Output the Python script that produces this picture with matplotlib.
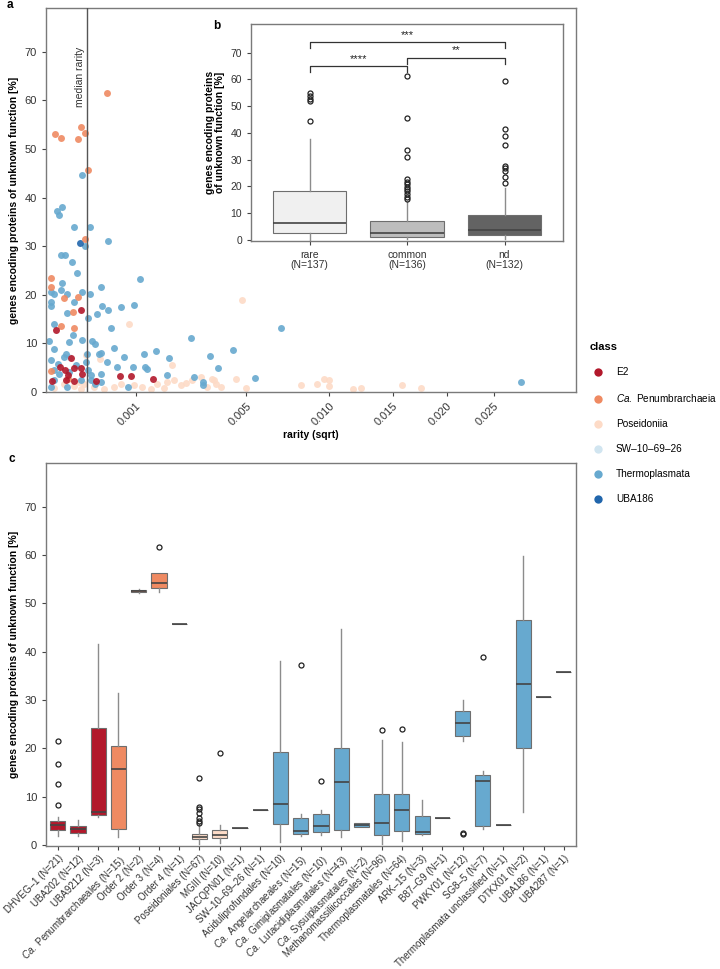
import numpy as np
import matplotlib
matplotlib.use("Agg")
import matplotlib.pyplot as plt
from matplotlib.lines import Line2D

plt.rcParams['font.family'] = ['Liberation Sans', 'DejaVu Sans']
plt.rcParams['mathtext.fontset'] = 'custom'
plt.rcParams['mathtext.it'] = 'Liberation Sans:italic'
plt.rcParams['mathtext.rm'] = 'Liberation Sans'

# ---------- colours ----------
CLASS_NAMES = ["E2", r"$\it{Ca.}$ Penumbrarchaeia", "Poseidoniia", "SW\u201210\u201269\u201226",
               "Thermoplasmata", "UBA186"]
CLASS_COLORS = ["#b2182b", "#ef8a62", "#fddbc7", "#d1e5f0", "#67a9cf", "#2166ac"]

# ---------- panel a: rarity vs unknown-function genes ----------
e2_rarity = [1.56e-4, 1.17e-5, 8.02e-5, 2.33e-5, 9.75e-5, 1.56e-4, 5.1e-6, 5.17e-5, 9.75e-5,
             4.35e-5, 6.02e-5, 6.75e-4, 8.92e-4, 1.434e-3, 3.07e-4, 1.65e-4]
e2_pct = [16.8, 12.7, 6.9, 5.1, 5.0, 5.0, 2.3, 2.4, 2.3, 4.5, 3.6, 3.2, 3.2, 2.7, 2.3, 3.8]

pen_rarity = [4.69e-4, 1.01e-5, 2.80e-5, 1.25e-4, 1.56e-4, 1.89e-4, 2.16e-4, 1.86e-4, 2.75e-6,
              2.75e-6, 4.03e-5, 1.27e-4, 9.33e-5, 2.69e-5, 9.54e-5, 3.6e-6, 5.86e-5]
pen_pct = [61.5, 53.1, 52.3, 52.1, 54.6, 53.3, 45.7, 31.4, 23.5, 21.6, 19.4, 19.6, 16.5, 13.5,
           13.2, 4.3, 2.7]

pos_rarity = [8.57e-4, 1.987e-3, 4.811e-3, 3.63e-4, 1.96e-4, 4.475e-3, 4.993e-3, 3.442e-3,
              3.610e-3, 3.239e-3, 2.976e-3, 8.085e-3, 9.18e-3, 9.66e-3, 9.96e-3, 1.0e-2,
              1.172e-2, 1.237e-2, 1.58e-2, 1.755e-2, 5.70e-4, 6.94e-4, 9.56e-4, 1.155e-3,
              1.543e-3, 1.833e-3, 2.037e-3, 2.256e-3, 2.427e-3, 2.665e-3, 3.509e-3, 3.795e-3,
              9.75e-5, 4.03e-5, 1.80e-4, 2.87e-4, 4.18e-4, 1.363e-3, 1.731e-3, 8.0e-6, 1.35e-4,
              1.50e-4]
pos_pct = [13.9, 5.5, 19.0, 6.7, 7.7, 2.6, 0.9, 2.7, 1.7, 1.0, 3.1, 1.4, 1.6, 2.7, 2.4, 1.2,
           0.7, 0.8, 1.4, 0.9, 1.0, 1.7, 1.4, 1.0, 1.7, 2.1, 2.4, 1.4, 1.9, 2.4, 2.4, 1.0,
           1.2, 1.7, 1.7, 1.0, 0.7, 0.7, 0.8, 0.8, 2.1, 0.7]

sw_rarity = [6.58e-5]
sw_pct = [7.3]

thp_rarity = [1.61e-4, 1.42e-5, 3.18e-5, 2.23e-5, 1.00e-4, 2.41e-4, 1.86e-4, 4.78e-4, 2.69e-5,
              4.35e-5, 8.21e-5, 1.23e-4, 2.75e-6, 8.0e-6, 2.41e-4, 1.65e-4, 2.69e-5, 3.18e-5,
              5.69e-5, 2.75e-6, 2.75e-6, 3.82e-4, 9.75e-5, 6.94e-4, 9.63e-4, 3.96e-4, 4.78e-4,
              3.28e-4, 5.33e-5, 2.19e-4, 5.20e-4, 8.0e-6, 1.099e-3, 5.75e-4, 7.56e-4, 9.1e-7,
              8.0e-6, 6.58e-5, 9.33e-5, 1.65e-4, 2.68e-4, 2.95e-4, 2.13e-4, 3.49e-4, 3.82e-4,
              1.194e-3, 1.496e-3, 1.881e-3, 2.603e-3, 3.332e-3, 3.695e-3, 4.348e-3, 3.080e-3,
              2.724e-3, 1.811e-3, 1.211e-3, 1.278e-3, 9.50e-4, 8.36e-4, 6.34e-4, 4.69e-4,
              3.72e-4, 2.48e-4, 2.99e-4, 2.75e-6, 1.79e-5, 4.03e-5, 4.82e-5, 8.0e-6, 2.10e-5,
              6.58e-5, 1.10e-4, 1.96e-4, 2.19e-4, 1.50e-4, 2.48e-4, 3.72e-4, 2.75e-6, 5.69e-5,
              8.0e-6, 6.907e-3, 5.431e-3, 2.81e-2, 3.080e-3]
thp_pct = [44.6, 37.2, 38.0, 36.5, 33.9, 33.9, 30.0, 31.0, 28.2, 28.2, 26.7, 24.5, 20.5, 20.2,
           20.2, 20.6, 20.9, 22.4, 20.2, 18.5, 17.6, 21.6, 18.5, 17.5, 17.8, 17.6, 16.9, 16.0,
           16.2, 15.3, 13.2, 13.9, 23.3, 9.0, 7.3, 10.5, 8.9, 10.3, 11.7, 10.8, 10.5, 9.8, 7.9,
           7.9, 8.0, 7.9, 8.4, 7.0, 11.2, 7.5, 4.9, 8.6, 1.4, 3.1, 3.6, 5.1, 4.7, 5.1, 1.0, 5.1,
           6.2, 3.8, 3.4, 1.6, 6.5, 5.8, 7.1, 7.9, 4.5, 3.8, 4.1, 5.5, 6.2, 4.5, 2.4, 2.4, 2.1,
           1.0, 1.0, 2.4, 13.2, 2.8, 2.0, 2.1]

uba_rarity = [1.47e-4]
uba_pct = [30.7]

median_rarity = 2.06e-4
a_xticks = [0.001, 0.005, 0.010, 0.015, 0.020, 0.025]

# ---------- panel b: rarity groups ----------
b_labels = ["rare\n(N=137)", "common\n(N=136)", "nd\n(N=132)"]
b_colors = ["#f0f0f0", "#bdbdbd", "#636363"]
b_q1 = [2.5, 1.2, 1.9]
b_med = [6.4, 2.5, 3.7]
b_q3 = [18.4, 7.0, 9.3]
b_lo = [0.1, 0.5, 0.5]
b_hi = [37.6, 14.1, 19.3]
b_fliers = [[54.8, 53.8, 52.8, 52.1, 44.5],
            [61.3, 45.6, 33.7, 30.9, 22.9, 21.8, 20.8, 19.8, 18.9, 18.1, 17.2, 16.2, 15.3],
            [59.5, 41.3, 38.9, 35.5, 27.8, 26.8, 25.8, 23.7, 21.4]]
b_pairs = [(0, 1), (1, 2), (0, 2)]
b_pair_y = [64.9, 67.9, 73.8]
b_pair_txt = ["****", "**", "***"]

# ---------- panel c: orders ----------
c_labels = ["DHVEG\u20121 (N=21)", "UBA202 (N=12)", "UBA9212 (N=3)",
            r"$\it{Ca.}$ Penumbrarchaeales (N=15)", "Order 2 (N=2)", "Order 3 (N=4)",
            "Order 4 (N=1)", "Poseidoniales (N=67)", "MGIII (N=10)", "JACQPN01 (N=1)",
            "SW\u201210\u201269\u201226 (N=1)", "Aciduliprofundales (N=10)",
            r"$\it{Ca.}$ Angelarchaeales (N=15)", r"$\it{Ca.}$ Gimiplasmatales (N=10)",
            r"$\it{Ca.}$ Lutacidiplasmatales (N=43)", r"$\it{Ca.}$ Sysuiplasmatales (N=2)",
            "Methanomassiliicoccales (N=96)", "Thermoplasmatales (N=64)", "ARK\u201215 (N=3)",
            "B87\u2012G9 (N=1)", "PWKY01 (N=12)", "SG8\u20125 (N=7)",
            "Thermoplasmata unclassified (N=1)", "DTKX01 (N=2)", "UBA186 (N=1)", "UBA287 (N=1)"]
c_class = [0, 0, 0, 1, 1, 1, 1, 2, 2, 2, 3, 4, 4, 4, 4, 4, 4, 4, 4, 4, 4, 4, 4, 4, 5, 4]
c_q1 = [3.2, 2.4, 6.2, 3.4, 52.4, 53.1, 45.8, 1.2, 1.4, 3.6, 7.3, 4.3, 2.3, 2.6, 3.2, 3.8,
        2.1, 2.9, 2.3, 5.6, 22.5, 4.0, 4.2, 20.0, 30.7, 35.7]
c_med = [4.1, 3.4, 6.8, 15.8, 52.6, 54.1, 45.8, 1.7, 2.1, 3.6, 7.3, 8.5, 3.0, 3.9, 13.1, 4.1,
         4.5, 7.3, 2.7, 5.6, 25.3, 13.2, 4.2, 33.3, 30.7, 35.7]
c_q3 = [4.9, 4.0, 24.2, 20.5, 52.8, 56.3, 45.8, 2.3, 3.2, 3.6, 7.3, 19.3, 5.6, 6.5, 20.0, 4.5,
        10.6, 10.6, 6.1, 5.6, 27.7, 14.5, 4.2, 46.5, 30.7, 35.7]
c_lo = [1.9, 1.9, 5.8, 1.6, 52.2, 52.3, 45.8, 0.3, 0.5, 3.6, 7.3, 0.6, 1.9, 2.1, 1.6, 3.7,
        0.3, 0.9, 2.0, 5.6, 21.5, 3.4, 4.2, 6.9, 30.7, 35.7]
c_hi = [5.7, 5.1, 41.6, 31.4, 53.0, 56.3, 45.8, 4.3, 4.1, 3.6, 7.3, 38.1, 6.4, 7.3, 44.6, 4.6,
        21.8, 21.3, 9.4, 5.6, 29.9, 15.4, 4.2, 59.7, 30.7, 35.7]
c_fliers = [[8.3, 12.7, 16.8, 21.5], [], [], [], [], [61.6], [],
            [13.9, 7.8, 7.4, 6.6, 5.6, 5.0, 4.6], [19.0], [], [], [], [37.2], [13.2], [], [],
            [23.7], [23.9], [], [], [2.2, 2.4], [38.9], [], [], [], []]

YLAB = "genes encoding proteins of unknown function [%]"
SPINE = "#7a7a7a"
FS = 7.5


def style_axes(ax):
    for s in ax.spines.values():
        s.set_color(SPINE)
        s.set_linewidth(1.0)
    ax.tick_params(direction="out", length=3, width=0.8, color="#444444",
                   labelcolor="#333333", labelsize=8)


def draw_boxes(ax, q1, med, q3, lo, hi, fliers, colors, width):
    stats = [dict(q1=a, med=m, q3=b, whislo=l, whishi=h, fliers=f)
             for a, m, b, l, h, f in zip(q1, med, q3, lo, hi, fliers)]
    bp = ax.bxp(stats, positions=range(len(stats)), widths=width, patch_artist=True,
                showcaps=False, manage_ticks=False,
                boxprops=dict(edgecolor="#6e6e6e", linewidth=0.8),
                medianprops=dict(color="#444444", linewidth=1.2),
                whiskerprops=dict(color="#8c8c8c", linewidth=1.0),
                flierprops=dict(marker="o", markerfacecolor="none", markeredgecolor="#222222",
                                markersize=3.6, markeredgewidth=0.9))
    for patch, col in zip(bp["boxes"], colors):
        patch.set_facecolor(col)
    return bp


fig = plt.figure(figsize=(7.2, 9.69), dpi=100)
W, H = 720.0, 969.0

# ---------- panel a ----------
ax_a = fig.add_axes([46 / W, 1 - 392 / H, 530 / W, 384 / H])
groups = [(pos_rarity, pos_pct, 2), (sw_rarity, sw_pct, 3), (thp_rarity, thp_pct, 4),
          (uba_rarity, uba_pct, 5), (pen_rarity, pen_pct, 1), (e2_rarity, e2_pct, 0)]
for xs, ys, ci in groups:
    ax_a.scatter(xs, ys, s=25, color=CLASS_COLORS[ci], alpha=0.9, linewidths=0, zorder=2)
ax_a.set_xscale("function", functions=(lambda v: np.sqrt(np.clip(v, 0, None)), np.square))
ax_a.set_xlim(0, 0.035)
ax_a.set_ylim(0, 79)
ax_a.axvline(median_rarity, color="#555555", lw=1.0, zorder=3)
ax_a.text(median_rarity * 0.93, 71, "median rarity", rotation=90, ha="right", va="top",
          fontsize=7.5, color="#333333")
ax_a.set_xticks(a_xticks)
ax_a.set_xticklabels([f"{v:.3f}" for v in a_xticks], rotation=45, ha="right",
                     rotation_mode="anchor")
ax_a.set_yticks(range(0, 71, 10))
ax_a.set_xlabel("rarity (sqrt)", fontweight="bold", fontsize=FS, labelpad=2)
ax_a.set_ylabel(YLAB, fontweight="bold", fontsize=FS, labelpad=4)
style_axes(ax_a)

# ---------- panel b (inset) ----------
ax_b = fig.add_axes([251 / W, 1 - 241 / H, 312 / W, 217 / H])
ax_b.set_facecolor("white")
draw_boxes(ax_b, b_q1, b_med, b_q3, b_lo, b_hi, b_fliers, b_colors, 0.75)
for (i, j), yv, txt in zip(b_pairs, b_pair_y, b_pair_txt):
    ax_b.plot([i, i, j, j], [yv - 2, yv, yv, yv - 2], color="#333333", lw=0.9)
    ax_b.text((i + j) / 2, yv + 1.0, txt, ha="center", va="bottom", fontsize=8,
              color="#222222")
ax_b.set_xlim(-0.6, 2.6)
ax_b.set_ylim(-0.4, 80.7)
ax_b.set_xticks(range(3))
ax_b.set_xticklabels(b_labels, fontsize=FS, linespacing=1.0)
ax_b.set_yticks(range(0, 71, 10))
ax_b.set_ylabel("genes encoding proteins\nof unknown function [%]", fontweight="bold",
                fontsize=FS, linespacing=1.0)
style_axes(ax_b)
ax_b.tick_params(labelsize=FS)

# ---------- legend ----------
handles = [Line2D([], [], marker="o", linestyle="none", markersize=6, color=c,
                  markeredgewidth=0) for c in CLASS_COLORS]
leg = fig.legend(handles, CLASS_NAMES, title="class", loc="upper left",
                 bbox_to_anchor=(583 / W, 1 - 335 / H), frameon=False, fontsize=7.2,
                 labelspacing=1.5, handletextpad=1.0, handlelength=1.6,
                 alignment="left", borderaxespad=0.3)
leg.get_title().set_fontweight("bold")
leg.get_title().set_fontsize(8)

# ---------- panel c ----------
ax_c = fig.add_axes([46 / W, 1 - 846 / H, 530 / W, 383 / H])
c_colors = [CLASS_COLORS[k] for k in c_class]
draw_boxes(ax_c, c_q1, c_med, c_q3, c_lo, c_hi, c_fliers, c_colors, 0.75)
ax_c.set_xlim(-0.58, 25.6)
ax_c.set_ylim(-0.2, 79)
ax_c.set_xticks(range(len(c_labels)))
ax_c.set_xticklabels(c_labels, rotation=45, ha="right", rotation_mode="anchor", fontsize=7.0)
ax_c.set_yticks(range(0, 71, 10))
ax_c.set_ylabel(YLAB, fontweight="bold", fontsize=FS, labelpad=4)
style_axes(ax_c)
ax_c.tick_params(axis="x", labelsize=7.0, pad=2)

# ---------- panel letters ----------
fig.text(10 / W, 1 - 5 / H, "a", fontweight="bold", fontsize=8.5, ha="center", va="center")
fig.text(217 / W, 1 - 26 / H, "b", fontweight="bold", fontsize=8.5, ha="center", va="center")
fig.text(12 / W, 1 - 459 / H, "c", fontweight="bold", fontsize=8.5, ha="center", va="center")

fig.savefig("out.png", dpi=100)
